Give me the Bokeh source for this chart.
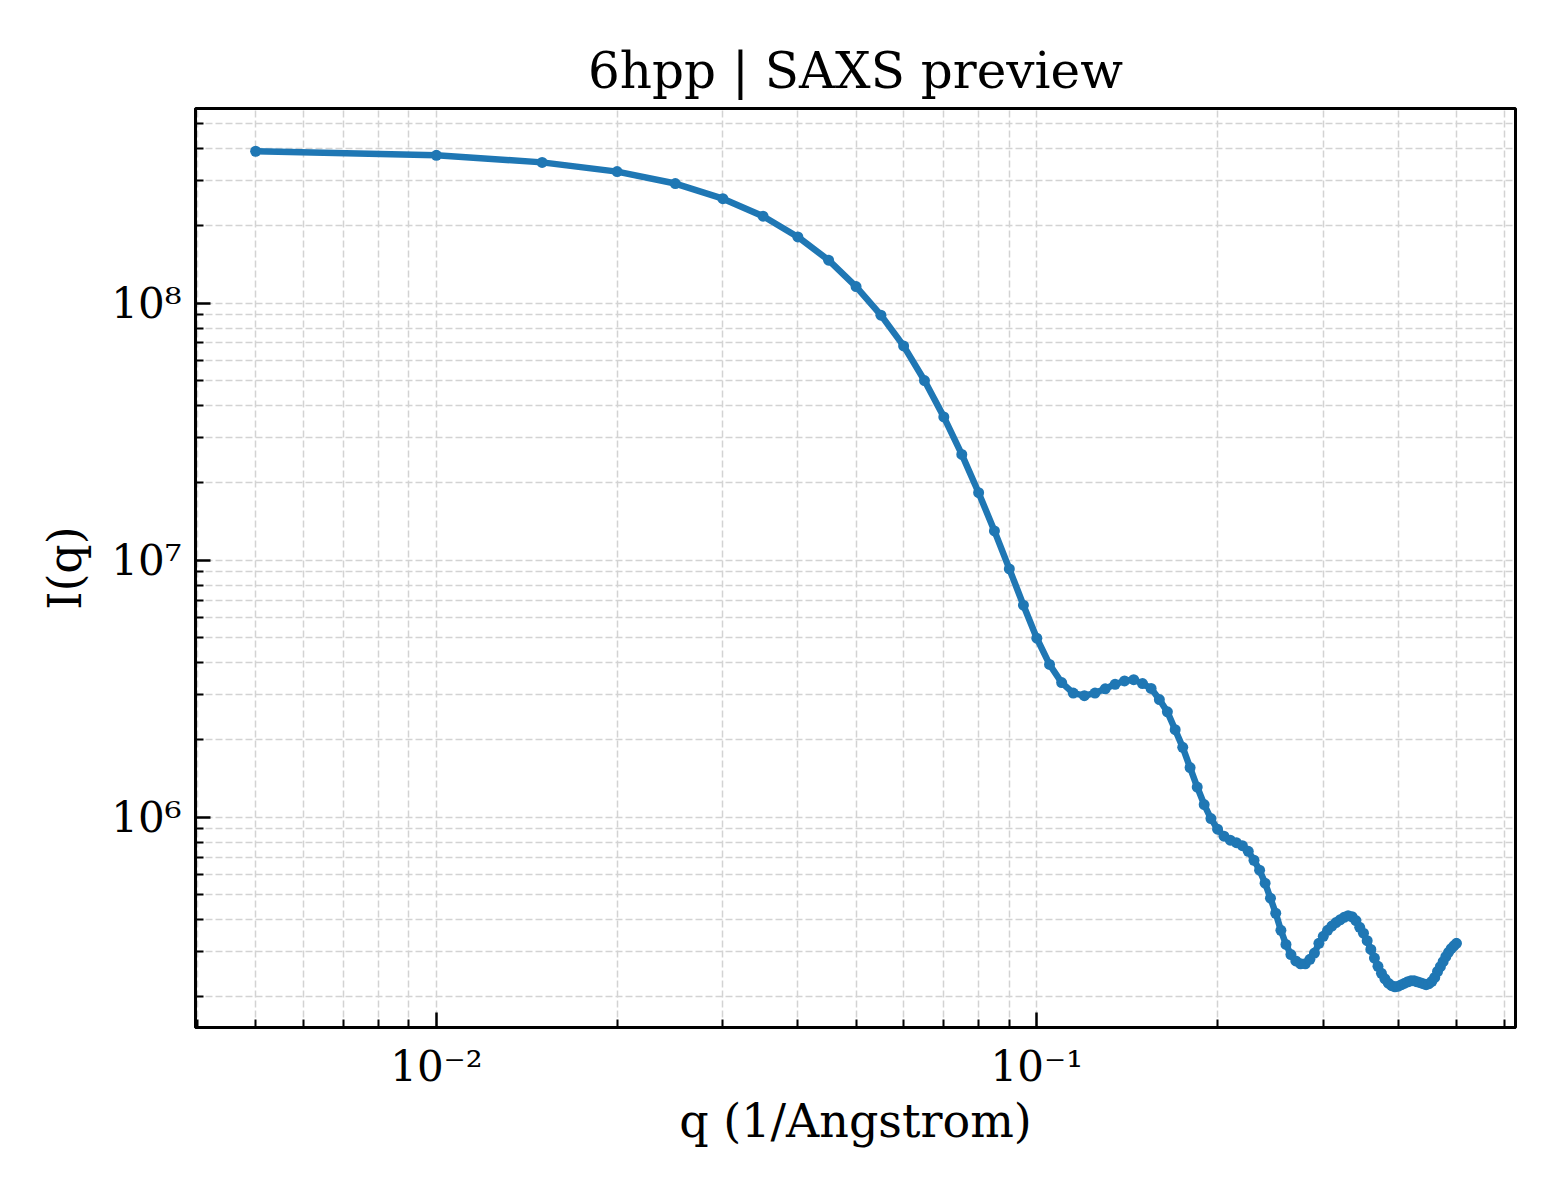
from bokeh.models import ColumnDataSource, Range1d, FixedTicker, CustomJSTickFormatter
from bokeh.plotting import figure
from bokeh.embed import file_html
from bokeh.resources import INLINE

# q (1/Angstrom) et intensite
q = [
    0.005, 0.010, 0.015, 0.020, 0.025, 0.030, 0.035, 0.040, 0.045, 0.050,
    0.055, 0.060, 0.065, 0.070, 0.075, 0.080, 0.085, 0.090, 0.095, 0.100,
    0.105, 0.110, 0.115, 0.120, 0.125, 0.130, 0.135, 0.140, 0.145, 0.150,
    0.155, 0.160, 0.165, 0.170, 0.175, 0.180, 0.185, 0.190, 0.195, 0.200,
    0.205, 0.210, 0.215, 0.220, 0.225, 0.230, 0.235, 0.240, 0.245, 0.250,
    0.255, 0.260, 0.265, 0.270, 0.275, 0.280, 0.285, 0.290, 0.295, 0.300,
    0.305, 0.310, 0.315, 0.320, 0.325, 0.330, 0.335, 0.340, 0.345, 0.350,
    0.355, 0.360, 0.365, 0.370, 0.375, 0.380, 0.385, 0.390, 0.395, 0.400,
    0.405, 0.410, 0.415, 0.420, 0.425, 0.430, 0.435, 0.440, 0.445, 0.450,
    0.455, 0.460, 0.465, 0.470, 0.475, 0.480, 0.485, 0.490, 0.495, 0.500,
]
intensity = [
    3.90e8, 3.76e8, 3.53e8, 3.25e8, 2.92e8, 2.55e8, 2.18e8, 1.81e8, 1.47e8, 1.16e8,
    8.98e7, 6.82e7, 5.00e7, 3.61e7, 2.58e7, 1.83e7, 1.30e7, 9.25e6, 6.68e6, 4.97e6,
    3.93e6, 3.34e6, 3.04e6, 2.97e6, 3.04e6, 3.16e6, 3.29e6, 3.39e6, 3.43e6, 3.31e6,
    3.17e6, 2.87e6, 2.57e6, 2.19e6, 1.87e6, 1.56e6, 1.31e6, 1.12e6, 9.88e5, 8.98e5,
    8.44e5, 8.14e5, 7.96e5, 7.75e5, 7.37e5, 6.80e5, 6.22e5, 5.54e5, 4.84e5, 4.23e5,
    3.63e5, 3.20e5, 2.92e5, 2.76e5, 2.69e5, 2.69e5, 2.80e5, 2.96e5, 3.23e5, 3.44e5,
    3.63e5, 3.77e5, 3.89e5, 3.99e5, 4.08e5, 4.14e5, 4.10e5, 3.96e5, 3.73e5, 3.54e5,
    3.31e5, 3.06e5, 2.83e5, 2.63e5, 2.47e5, 2.35e5, 2.26e5, 2.21e5, 2.19e5, 2.20e5,
    2.23e5, 2.26e5, 2.29e5, 2.31e5, 2.31e5, 2.29e5, 2.27e5, 2.25e5, 2.23e5, 2.25e5,
    2.30e5, 2.38e5, 2.51e5, 2.62e5, 2.74e5, 2.87e5, 2.98e5, 3.08e5, 3.16e5, 3.23e5,
]

x_major = [0.01, 0.1]
x_minor = [0.004, 0.005, 0.006, 0.007, 0.008, 0.009,
           0.02, 0.03, 0.04, 0.05, 0.06, 0.07, 0.08, 0.09,
           0.2, 0.3, 0.4, 0.5, 0.6]
y_major = [1e6, 1e7, 1e8]
y_minor = [2e5, 3e5, 4e5, 5e5, 6e5, 7e5, 8e5, 9e5,
           2e6, 3e6, 4e6, 5e6, 6e6, 7e6, 8e6, 9e6,
           2e7, 3e7, 4e7, 5e7, 6e7, 7e7, 8e7, 9e7,
           2e8, 3e8, 4e8, 5e8]

FONT = "DejaVu Serif"
BLUE = "#1f77b4"

source = ColumnDataSource(data=dict(q=q, intensity=intensity))

p = figure(
    x_axis_type="log", y_axis_type="log",
    x_range=Range1d(0.00397, 0.627), y_range=Range1d(1.52e5, 5.72e8),
    frame_width=1320, frame_height=919,
    min_border_left=195, min_border_top=108,
    min_border_right=30, min_border_bottom=150,
    title="6hpp | SAXS preview",
    toolbar_location=None, output_backend="svg",
)

p.line("q", "intensity", source=source, line_color=BLUE, line_width=6.5)
p.scatter("q", "intensity", source=source, size=11,
          fill_color=BLUE, line_color=BLUE, line_width=0)

# titre
p.title.text_font = FONT
p.title.text_font_size = "50px"
p.title.text_font_style = "normal"
p.title.text_color = "black"
p.title.align = "center"
p.title.standoff = 18

# cadre
p.outline_line_color = "black"
p.outline_line_width = 3
p.outline_line_alpha = 1

sup = CustomJSTickFormatter(code="""
    const m = {"-": "\u207b", "0": "\u2070", "1": "\u00b9", "2": "\u00b2", "3": "\u00b3",
               "4": "\u2074", "5": "\u2075", "6": "\u2076", "7": "\u2077", "8": "\u2078", "9": "\u2079"};
    const e = Math.round(Math.log10(tick));
    return "10" + String(e).split("").map(c => m[c]).join("");
""")

p.xaxis.ticker = FixedTicker(ticks=x_major, minor_ticks=x_minor)
p.yaxis.ticker = FixedTicker(ticks=y_major, minor_ticks=y_minor)

for ax in (p.xaxis[0], p.yaxis[0]):
    ax.formatter = sup
    ax.axis_line_width = 3
    ax.axis_line_color = "black"
    ax.major_tick_in = 15
    ax.major_tick_out = 0
    ax.minor_tick_in = 8
    ax.minor_tick_out = 0
    ax.major_tick_line_width = 2.5
    ax.minor_tick_line_width = 2
    ax.major_label_text_font = FONT
    ax.major_label_text_font_size = "42px"
    ax.major_label_text_color = "black"
    ax.major_label_standoff = 14
    ax.axis_label_text_font = FONT
    ax.axis_label_text_font_size = "46px"
    ax.axis_label_text_font_style = "normal"
    ax.axis_label_text_color = "black"

p.xaxis.axis_label = "q (1/Angstrom)"
p.yaxis.axis_label = "I(q)"
p.xaxis.axis_label_standoff = 0
p.yaxis.axis_label_standoff = 16

for g in (p.xgrid[0], p.ygrid[0]):
    g.grid_line_color = "#d3d3d3"
    g.grid_line_width = 1.5
    g.grid_line_dash = "7 3"
    g.minor_grid_line_color = "#d3d3d3"
    g.minor_grid_line_width = 1.5
    g.minor_grid_line_dash = "7 3"

open("out.html", "w").write(file_html(p, INLINE))
